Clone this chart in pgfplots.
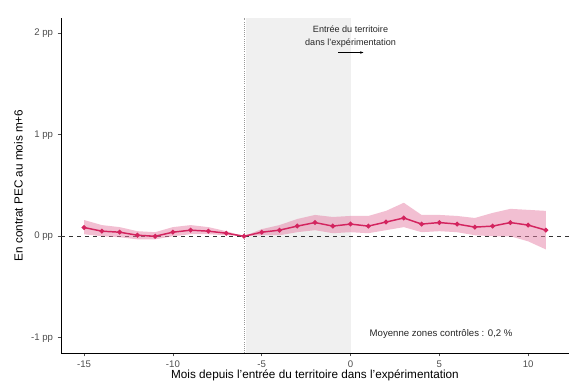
\documentclass[border=0pt]{standalone}
\usepackage{pgfplots}
\pgfplotsset{compat=1.18}
\usepackage{pgfplotstable}
\usepackage{fontspec}
\setmainfont{Liberation Sans}
\usetikzlibrary{arrows.meta}
\usepgfplotslibrary{fillbetween}

\definecolor{linec}{HTML}{D3245F}
\definecolor{bandc}{HTML}{E67FA5}
\definecolor{tickc}{HTML}{4D4D4D}
\definecolor{zonec}{HTML}{F0F0F0}

% mois, estimation, bornes de l'intervalle
\pgfplotstableread{
x    y      lo     hi
-15  0.086  0.02   0.16
-14  0.05   0.00   0.11
-13  0.04  -0.01   0.09
-12  0.01  -0.03   0.05
-11  0.00  -0.03   0.04
-10  0.04   0.00   0.09
-9   0.06   0.02   0.11
-8   0.05   0.02   0.09
-7   0.03   0.01   0.05
-6   0.00   0.00   0.00
-5   0.04   0.01   0.07
-4   0.06   0.01   0.11
-3   0.10   0.04   0.17
-2   0.135  0.06   0.21
-1   0.10   0.03   0.19
0    0.12   0.04   0.20
1    0.10   0.03   0.20
2    0.14   0.06   0.25
3    0.18   0.09   0.33
4    0.12   0.04   0.21
5    0.135  0.05   0.21
6    0.12   0.04   0.20
7    0.09   0.01   0.18
8    0.10   0.00   0.23
9    0.135  0.00   0.27
10   0.11  -0.05   0.26
11   0.06  -0.13   0.25
}\est

\begin{document}
\begin{tikzpicture}
\begin{axis}[
    name=ax,
    scale only axis,
    width=381pt, height=251.25pt,
    xmin=-16.3, xmax=12.3,
    ymin=-1.15, ymax=2.15,
    axis x line*=bottom,
    axis y line*=left,
    axis line style={black, line width=0.7pt, -},
    xtick={-15,-10,-5,0,5,10},
    xticklabels={-15,-10,-5,0,5,10},
    ytick={-1,0,1,2},
    yticklabels={-1 pp,0 pp,1 pp,2 pp},
    tick align=outside,
    major tick length=2.5pt,
    tick style={tickc, line width=0.5pt},
    tick label style={font=\fontsize{7.2}{8}\selectfont, text=tickc},
    /pgf/number format/assume math mode=true,
    xlabel={Mois depuis l'entrée du territoire dans l'expérimentation},
    ylabel={En contrat PEC au mois m+6},
    label style={font=\fontsize{8.8}{10}\selectfont},
    xlabel style={at={(axis description cs:0.5,0)}, anchor=center, yshift=-16.8pt},
    ylabel style={at={(axis description cs:-0.084,0.5)}, anchor=center},
    clip=false,
]
\fill[zonec] (axis cs:-5.9,-1.15) rectangle (axis cs:0,2.15);
\draw[densely dotted, gray!80, line width=0.6pt] (axis cs:-6,-1.15) -- (axis cs:-6,2.15);
\draw[dashed, black!80, line width=0.6pt] (axis cs:-16.3,0) -- (axis cs:12.3,0);

\addplot[name path=hi, draw=none, forget plot] table[x=x, y=hi]{\est};
\addplot[name path=lo, draw=none, forget plot] table[x=x, y=lo]{\est};
\addplot[bandc, fill opacity=0.5, draw=none] fill between[of=hi and lo, on layer=main];

\addplot[linec, line width=1.1pt, mark=*, mark size=1.2pt] table[x=x, y=y]{\est};

\node[font=\fontsize{6.8}{9.5}\selectfont, align=center, text=black!85] at (axis cs:0,1.965)
    {Entrée du territoire\\dans l'expérimentation};
\draw[-{Stealth[length=2.5pt]}, line width=0.8pt] (axis cs:-0.68,1.81) -- (axis cs:0.73,1.81);
\node[font=\fontsize{7.2}{8}\selectfont, text=black!85] at (axis cs:5.1,-0.96)
    {Moyenne zones contrôles : 0,2 \%};
\end{axis}
\pgfresetboundingbox
\path[use as bounding box] ([shift={(-45.75pt,-21pt)}]ax.south west) rectangle ([shift={(0.75pt,13.5pt)}]ax.north east);
\end{tikzpicture}
\end{document}
